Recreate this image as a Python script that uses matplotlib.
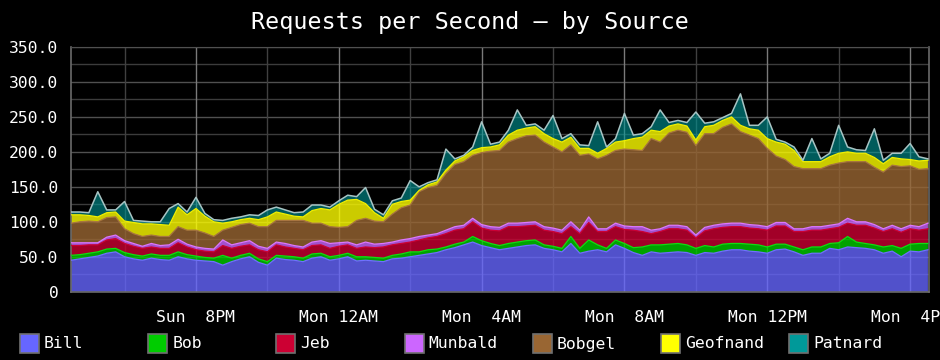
import numpy as np
import matplotlib
matplotlib.use("Agg")
import matplotlib.pyplot as plt
from matplotlib.patches import Rectangle

# ---------------- data (requests per second, 15-minute samples from Sun 16:30 to Mon 16:30)
series_names = ["Bill", "Bob", "Jeb", "Munbald", "Bobgel", "Geofnand", "Patnard"]

bill = [45, 47, 49, 51, 55, 57, 50, 47, 45, 48, 46, 45, 50, 47, 45, 44, 43, 38, 43, 47,
        50, 42, 38, 48, 46, 45, 43, 48, 50, 45, 47, 50, 44, 45, 44, 43, 47, 48, 50, 52,
        54, 56, 60, 63, 67, 71, 66, 63, 60, 62, 64, 66, 67, 62, 60, 57, 69, 55, 58, 60,
        57, 67, 62, 56, 52, 57, 55, 56, 57, 56, 52, 56, 55, 58, 60, 60, 58, 57, 55, 60,
        61, 57, 52, 55, 55, 62, 60, 64, 63, 62, 60, 55, 58, 50, 58, 57, 60]
bob = [7, 6, 6, 6, 6, 5, 6, 6, 6, 6, 6, 7, 7, 6, 6, 5, 5, 14, 5, 5,
       5, 5, 5, 4, 5, 5, 5, 6, 5, 5, 5, 5, 6, 5, 5, 5, 5, 6, 7, 5,
       6, 5, 4, 5, 4, 8, 7, 6, 6, 7, 7, 7, 7, 5, 5, 5, 10, 7, 16, 7,
       5, 7, 7, 7, 12, 10, 12, 12, 12, 11, 10, 10, 9, 10, 9, 9, 10, 10, 9, 8,
       7, 7, 8, 9, 9, 7, 10, 15, 8, 7, 7, 9, 8, 12, 10, 12, 9]
jeb = [14, 13, 12, 10, 13, 14, 13, 12, 11, 10, 10, 10, 13, 11, 9, 9, 9, 14, 14, 13,
       12, 13, 14, 15, 13, 12, 12, 12, 12, 12, 13, 12, 12, 14, 14, 16, 15, 15, 14, 17,
       17, 18, 19, 20, 19, 21, 18, 19, 21, 24, 22, 21, 21, 21, 21, 21, 14, 21, 25, 19,
       24, 19, 20, 25, 22, 16, 19, 22, 21, 21, 15, 21, 26, 24, 24, 24, 23, 23, 24, 26,
       26, 22, 26, 24, 24, 21, 22, 19, 24, 26, 24, 22, 24, 23, 22, 19, 21]
munbald = [4, 4, 3, 3, 4, 5, 4, 4, 3, 5, 4, 5, 5, 4, 4, 4, 4, 8, 5, 5,
           6, 5, 5, 4, 5, 4, 4, 5, 6, 7, 5, 4, 5, 7, 5, 5, 4, 5, 5, 5,
           4, 4, 5, 5, 5, 5, 5, 5, 5, 5, 5, 5, 5, 5, 5, 5, 7, 5, 8, 4,
           4, 5, 5, 5, 7, 5, 4, 5, 5, 5, 4, 5, 5, 5, 5, 5, 5, 5, 5, 5,
           5, 4, 4, 5, 5, 5, 5, 7, 5, 5, 5, 4, 5, 5, 5, 5, 8]
bobgel = [28, 30, 31, 30, 28, 26, 17, 14, 14, 12, 13, 12, 18, 20, 24, 22, 18, 14, 25, 26,
          25, 28, 31, 31, 33, 36, 38, 27, 25, 24, 22, 22, 35, 34, 33, 31, 40, 46, 48, 64,
          68, 69, 81, 89, 91, 90, 103, 108, 110, 116, 121, 124, 124, 121, 116, 112, 110, 107, 90, 100,
          105, 104, 110, 110, 109, 131, 124, 132, 136, 135, 128, 134, 131, 138, 142, 131, 128, 124, 112, 95,
          90, 89, 86, 83, 83, 86, 87, 81, 86, 86, 82, 81, 86, 89, 85, 82, 78]
geofnand = [12, 10, 8, 7, 7, 7, 11, 16, 18, 16, 17, 16, 28, 22, 31, 24, 21, 10, 8, 7,
            7, 10, 14, 12, 9, 6, 5, 18, 21, 24, 33, 38, 30, 21, 12, 5, 14, 9, 7, 2,
            4, 5, 5, 5, 7, 7, 7, 6, 8, 10, 12, 11, 12, 12, 12, 14, 11, 10, 8, 8,
            10, 12, 12, 16, 19, 12, 15, 10, 9, 9, 8, 10, 12, 10, 10, 9, 9, 12, 14, 20,
            22, 23, 10, 10, 10, 12, 14, 14, 12, 12, 14, 12, 11, 11, 9, 12, 12]
patnard = [4, 4, 4, 36, 4, 3, 28, 3, 4, 3, 4, 24, 5, 4, 16, 4, 3, 4, 5, 4,
           5, 6, 10, 7, 6, 5, 7, 8, 5, 4, 5, 7, 4, 23, 5, 5, 5, 5, 28, 5,
           3, 3, 30, 3, 2, 5, 37, 4, 4, 7, 29, 4, 4, 5, 33, 5, 5, 5, 4, 45,
           2, 5, 39, 5, 5, 5, 31, 5, 5, 5, 40, 5, 5, 4, 5, 45, 5, 7, 31, 4,
           3, 5, 2, 33, 4, 5, 40, 7, 5, 4, 41, 5, 6, 8, 23, 6, 2]

sample_minutes = 15
x_tick_hours = [3.5, 7.5, 11.5, 15.5, 19.5, 23.5]          # hours after Sun 4:30PM
x_tick_labels = ["Sun  8PM", "Mon 12AM", "Mon  4AM", "Mon  8AM", "Mon 12PM", "Mon  4PM"]
x_minor_hours = [1.5, 5.5, 9.5, 13.5, 17.5, 21.5]
y_ticks = [0, 50, 100, 150, 200, 250, 300, 350]
y_tick_labels = ["0", "50.0", "100.0", "150.0", "200.0", "250.0", "300.0", "350.0"]
y_minor = [25, 75, 125, 175, 225, 275, 325]

legend_colors = ["#6666ff", "#00cc00", "#cc0033", "#cc66ff", "#996633", "#ffff00", "#009999"]
line_colors = ["#7070ff", "#11dd11", "#cc0033", "#dd77ff", "#a87540", "#f0f000", "#a8c4c4"]

# ---------------- figure
plt.rcParams["font.family"] = ["DejaVu Sans Mono", "DejaVu Sans"]
fig = plt.figure(figsize=(9.4, 3.6), dpi=100, facecolor="black")
ax = fig.add_axes([71 / 940, 68.3 / 360, 858 / 940, 244.7 / 360], facecolor="black")

data = np.array([bill, bob, jeb, munbald, bobgel, geofnand, patnard], dtype=float)
x = np.arange(data.shape[1]) * sample_minutes / 60.0
cum = np.cumsum(data, axis=0)

# grid below the areas
for yv in y_minor:
    ax.axhline(yv, color="#3c3c3c", lw=1, zorder=0)
for yv in y_ticks:
    ax.axhline(yv, color="#505050", lw=1, zorder=0)
for xv in x_minor_hours:
    ax.axvline(xv, color="#404040", lw=1, zorder=0)
for xv in x_tick_hours:
    ax.axvline(xv, color="#7a7a7a", lw=1, zorder=0)

base = np.zeros_like(x)
for i in range(len(series_names)):
    top = cum[i]
    alpha = 0.8 if i < 6 else 0.6
    ax.fill_between(x, base, top, facecolor=legend_colors[i], alpha=alpha, lw=0, zorder=2)
    ax.plot(x, top, color=line_colors[i], lw=0.9 if i < 6 else 1.1, zorder=3)
    base = top

ax.set_xlim(0, 24.03)
ax.set_ylim(0, 350)
ax.set_xticks(x_tick_hours)
ax.set_xticklabels(x_tick_labels)
ax.set_yticks(y_ticks)
ax.set_yticklabels(y_tick_labels)
ax.tick_params(axis="both", length=0, colors="white", labelsize=11.8)
ax.tick_params(axis="y", pad=9)
ax.tick_params(axis="x", pad=13)
for s in ["left", "bottom", "right"]:
    ax.spines[s].set_color("#6a6a6a")
    ax.spines[s].set_linewidth(1.2)
ax.spines["top"].set_color("#505050")

fig.text(0.5, 1 - 23 / 360, "Requests per Second \u2013 by Source", color="white",
         ha="center", va="center", fontsize=16.8)

# legend
for i, name in enumerate(series_names):
    x0 = 20 + i * 128.2
    fig.patches.append(Rectangle((x0 / 940, (360 - 353) / 360), 19 / 940, 19 / 360,
                                 transform=fig.transFigure, facecolor=legend_colors[i],
                                 edgecolor="#707070", lw=1.2))
    fig.text((x0 + 24) / 940, (360 - 344) / 360, name, color="white", ha="left",
             va="center", fontsize=11.8)

fig.savefig("out.png", dpi=100, facecolor="black")
